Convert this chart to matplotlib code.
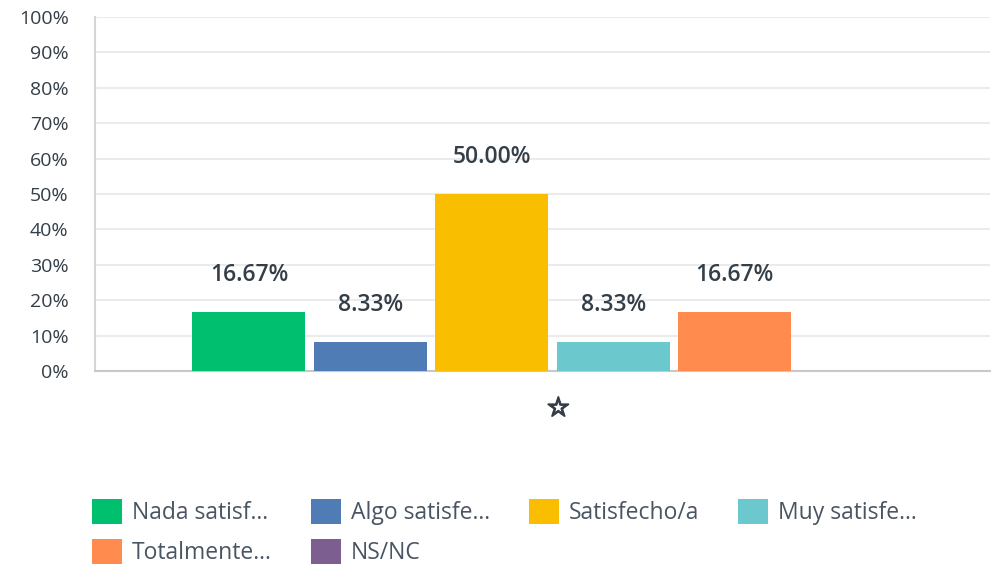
import numpy as np
import matplotlib.pyplot as plt
import matplotlib.patheffects as pe
from matplotlib.patches import Patch

categories = ['Nada satisf...', 'Algo satisfe...', 'Satisfecho/a', 'Muy satisfe...', 'Totalmente...', 'NS/NC']
values = [16.67, 8.33, 50.00, 8.33, 16.67, 0.0]
colors = ['#00bf6f', '#507cb6', '#f9be00', '#6bc8cd', '#ff8b4f', '#7d5e90']
group_label = ['\u2606']
yticks = list(range(0, 101, 10))

plt.rcParams['font.family'] = ['Open Sans', 'DejaVu Sans']

fig = plt.figure(figsize=(9.91, 5.66), dpi=100)
ax = fig.add_axes([95 / 991, 1 - 371 / 566, 895 / 991, 354 / 566])

step = 1.075
offsets = (np.arange(len(values)) - (len(values) - 1) / 2) * step
for i, (v, c) in enumerate(zip(values, colors)):
    ax.bar(offsets[i], v, width=1.0, color=c, zorder=3)
    if v > 0:
        ax.annotate(f'{v:.2f}%', (offsets[i], v), xytext=(0, 26.5), textcoords='offset points',
                    ha='center', va='center', fontsize=16.5, fontweight='semibold', color='#333e48')

ax.set_xlim(-4.05, 3.87)
ax.set_ylim(0, 100)
ax.set_yticks(yticks)
ax.set_yticklabels([f'{t}%' for t in yticks], fontsize=14, color='#333e48')
ax.set_xticks([0.05])
ax.set_xticklabels(group_label, fontsize=19, color='#333e48', family='DejaVu Sans',
                   path_effects=[pe.withStroke(linewidth=1.3, foreground='#333e48')])
ax.tick_params(axis='both', length=0)
ax.tick_params(axis='y', pad=19)
ax.tick_params(axis='x', pad=18)
ax.grid(axis='y', color='#ebebeb', linewidth=1.5, zorder=0)
for s in ['top', 'right']:
    ax.spines[s].set_visible(False)
ax.spines['left'].set_color('#d5d5d5')
ax.spines['bottom'].set_color('#c8c8c8')
ax.spines['left'].set_linewidth(1.5)
ax.spines['bottom'].set_linewidth(1.5)

handles = [Patch(facecolor=c, edgecolor='none', label=l) for c, l in zip(colors, categories)]
order = [0, 4, 1, 5, 2, 3]
fig.legend([handles[i] for i in order], [categories[i] for i in order], ncol=4,
           loc='upper left', bbox_to_anchor=(71 / 991, 1 - 478 / 566), frameon=False,
           fontsize=16.5, labelcolor='#4a5563', handlelength=1.31, handleheight=1.31,
           handletextpad=0.44, columnspacing=1.7, labelspacing=0.6)

fig.savefig('out.png', dpi=100)
